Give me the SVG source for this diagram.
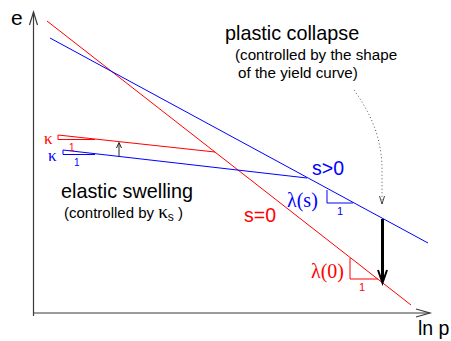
<svg xmlns="http://www.w3.org/2000/svg" width="451" height="341" viewBox="0 0 451 341">
<style>
.ax{stroke:#3a3a3a;stroke-width:1.2;fill:none}
.r{stroke:#ff0000;stroke-width:1;fill:none}
.b{stroke:#0000ff;stroke-width:1;fill:none}
.sans{font-family:"Liberation Sans",Arial,sans-serif}
.serif{font-family:"Liberation Serif","Times New Roman",serif}
.blk{fill:#000}
.rt{fill:#ff0000}
.bt{fill:#0000ff}
</style>
<rect width="451" height="341" fill="#fff"/>
<g id="connectors">
  <g id="axes">
    <line class="ax" x1="33.5" y1="316" x2="33.5" y2="12"/>
    <polyline class="ax" points="29.5,25 33.5,12 37.5,25"/>
    <line class="ax" x1="33" y1="313" x2="430" y2="313"/>
    <polyline class="ax" points="416,309 430,313 416,317"/>
  </g>
  <line id="ncl-s0" class="r" x1="47" y1="21" x2="411" y2="305"/>
  <line id="ncl-s" class="b" x1="50" y1="38" x2="428" y2="243"/>
  <line id="url-s0" class="r" x1="58" y1="135" x2="215" y2="152"/>
  <line id="url-s" class="b" x1="63" y1="150" x2="307" y2="178"/>
  <g id="small-arrow">
    <line x1="119" y1="157" x2="119" y2="143" stroke="#222" stroke-width="1"/>
    <polyline points="116.5,148 119,142.5 121.5,148" fill="none" stroke="#222" stroke-width="1"/>
  </g>
  <g id="collapse-arrow">
    <line x1="382.5" y1="219" x2="382.5" y2="281" stroke="#000" stroke-width="3"/>
    <polyline points="378,270 382.5,283 387,270" fill="none" stroke="#000" stroke-width="2"/>
  </g>
  <g id="dotted-arrow">
    <path d="M354,90 C372,115 382,140 382,170 L382,204" fill="none" stroke="#555" stroke-width="1" stroke-dasharray="1,2.5"/>
    <polyline points="379.5,196 382,204 384.5,196" fill="none" stroke="#444" stroke-width="1"/>
  </g>
</g>
<g id="tri-kappa-red">
  <polyline class="r" points="58,135 58,139.5 95,139.5"/>
  <text class="serif rt" x="44" y="144" font-size="17">κ</text>
  <text class="sans rt" x="69" y="151" font-size="10">1</text>
</g>
<g id="tri-kappa-blue">
  <polyline class="b" points="63,150 63,154.5 95,154.5"/>
  <text class="serif bt" x="48" y="161" font-size="17">κ</text>
  <text class="sans bt" x="74" y="166" font-size="10">1</text>
</g>
<g id="tri-lambda-s">
  <polyline class="b" points="327,190 327,203 353,203"/>
  <text class="serif bt" x="287" y="207" font-size="20">λ(s)</text>
  <text class="sans bt" x="337" y="215" font-size="11">1</text>
</g>
<g id="tri-lambda-0">
  <polyline class="r" points="350,258 350,279 378,279"/>
  <text class="serif rt" x="311" y="278" font-size="20">λ(0)</text>
  <text class="sans rt" x="359" y="291" font-size="11">1</text>
</g>
<g id="labels">
  <text class="sans blk" x="11" y="25" font-size="21">e</text>
  <text class="sans blk" x="418" y="335" font-size="19.5">ln p</text>
  <text class="sans bt" x="312" y="175" font-size="19.5">s&gt;0</text>
  <text class="sans rt" x="244" y="222" font-size="19.5">s=0</text>
</g>
<g id="elastic-label">
  <text class="sans blk" x="61" y="198" font-size="19.8">elastic swelling</text>
  <text class="sans blk" x="64" y="218" font-size="15">(controlled by <tspan class="serif" font-size="19">κ</tspan><tspan font-size="12" dy="3">s</tspan><tspan dy="-3"> )</tspan></text>
</g>
<g id="plastic-label">
  <text class="sans blk" x="225" y="40" font-size="19.8">plastic collapse</text>
  <text class="sans blk" x="235" y="60" font-size="15.2">(controlled by the shape</text>
  <text class="sans blk" x="238" y="78" font-size="15.2">of the yield curve)</text>
</g>
</svg>
